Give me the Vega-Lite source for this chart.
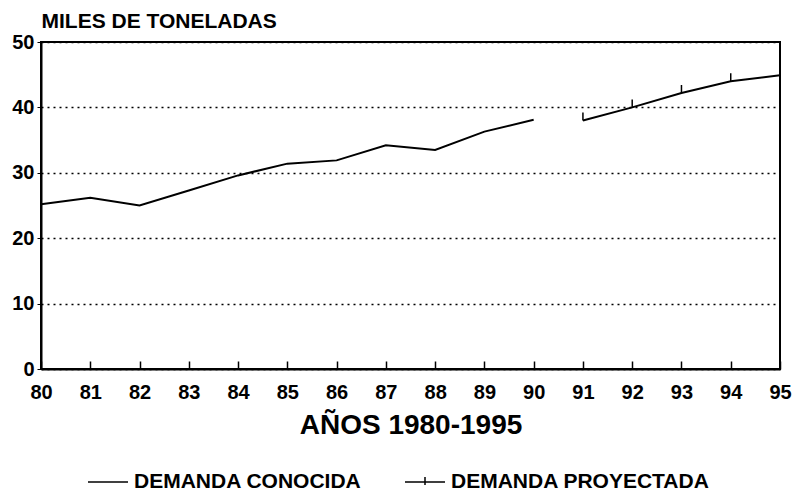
{
  "$schema": "https://vega.github.io/schema/vega-lite/v6.json",
  "autosize": {"type": "none"},
  "width": 739,
  "height": 327,
  "padding": {"left": 41, "top": 42, "right": 14, "bottom": 127},
  "background": "white",
  "config": {
    "font": "Liberation Sans",
    "view": {"stroke": "black", "strokeWidth": 2}
  },
  "data": {
    "values": [
      {"year": 80, "value": 25.2, "serie": "DEMANDA CONOCIDA"},
      {"year": 81, "value": 26.2, "serie": "DEMANDA CONOCIDA"},
      {"year": 82, "value": 25.0, "serie": "DEMANDA CONOCIDA"},
      {"year": 83, "value": 27.3, "serie": "DEMANDA CONOCIDA"},
      {"year": 84, "value": 29.6, "serie": "DEMANDA CONOCIDA"},
      {"year": 85, "value": 31.4, "serie": "DEMANDA CONOCIDA"},
      {"year": 86, "value": 31.9, "serie": "DEMANDA CONOCIDA"},
      {"year": 87, "value": 34.2, "serie": "DEMANDA CONOCIDA"},
      {"year": 88, "value": 33.5, "serie": "DEMANDA CONOCIDA"},
      {"year": 89, "value": 36.3, "serie": "DEMANDA CONOCIDA"},
      {"year": 90, "value": 38.1, "serie": "DEMANDA CONOCIDA"},
      {"year": 91, "value": 38.0, "serie": "DEMANDA PROYECTADA"},
      {"year": 92, "value": 40.0, "serie": "DEMANDA PROYECTADA"},
      {"year": 93, "value": 42.2, "serie": "DEMANDA PROYECTADA"},
      {"year": 94, "value": 44.0, "serie": "DEMANDA PROYECTADA"},
      {"year": 95, "value": 44.9, "serie": "DEMANDA PROYECTADA"}
    ]
  },
  "encoding": {
    "x": {
      "field": "year",
      "type": "quantitative",
      "scale": {"domain": [80, 95], "nice": false, "zero": false},
      "axis": {
        "values": [80,81,82,83,84,85,86,87,88,89,90,91,92,93,94,95],
        "format": "d",
        "grid": false,
        "labelFlush": false,
        "labelOverlap": false,
        "domainColor": "black",
        "domainWidth": 2,
        "tickColor": "black",
        "tickWidth": 1.5,
        "tickSize": -8,
        "labelPadding": 21,
        "labelFontSize": 20,
        "labelFontWeight": "bold",
        "labelColor": "black",
        "labelBaseline": "top",
        "title": "AÑOS 1980-1995",
        "titleFontSize": 28,
        "titleFontWeight": "bold",
        "titleColor": "black",
        "titleBaseline": "alphabetic",
        "titleY": 64
      }
    },
    "y": {
      "field": "value",
      "type": "quantitative",
      "scale": {"domain": [0, 50], "nice": false},
      "axis": {
        "values": [0, 10, 20, 30, 40, 50],
        "grid": true,
        "gridColor": "black",
        "gridDash": [2, 4],
        "gridWidth": 1.5,
        "domainColor": "black",
        "domainWidth": 2,
        "tickColor": "black",
        "tickSize": 4,
        "labelPadding": 3,
        "labelFontSize": 20,
        "labelFontWeight": "bold",
        "labelColor": "black",
        "title": "MILES DE TONELADAS",
        "titleAngle": 0,
        "titleX": 0,
        "titleY": -15,
        "titleAlign": "left",
        "titleBaseline": "alphabetic",
        "titleFontSize": 21,
        "titleFontWeight": "bold",
        "titleColor": "black"
      }
    }
  },
  "layer": [
    {
      "mark": {"type": "line", "strokeWidth": 2},
      "encoding": {
        "color": {
          "field": "serie",
          "type": "nominal",
          "scale": {"range": ["black", "black"]},
          "legend": {
            "title": null,
            "orient": "none",
            "legendX": 46,
            "legendY": 419,
            "direction": "horizontal",
            "padding": 0,
            "columnPadding": 40,
            "symbolType": "stroke",
            "symbolSize": 1600,
            "symbolStrokeWidth": 1.5,
            "labelFontSize": 21,
            "labelFontWeight": "bold",
            "labelColor": "black",
            "labelLimit": 400,
            "labelOffset": 5,
            "encode": {
              "symbols": {
                "update": {
                  "shape": {"signal": "datum.value === 'DEMANDA PROYECTADA' ? 'M-1,0H1M0,-0.25V0.15' : 'stroke'"}
                }
              }
            }
          }
        }
      }
    },
    {
      "transform": [{"filter": "datum.serie === 'DEMANDA PROYECTADA'"}],
      "mark": {"type": "point", "shape": "M0,-1V0", "size": 256, "filled": false, "stroke": "black", "strokeWidth": 1.5, "opacity": 1}
    }
  ]
}
